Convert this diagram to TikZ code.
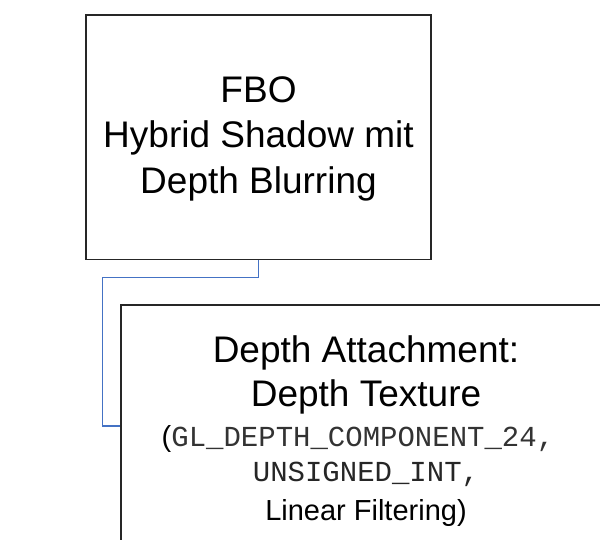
\documentclass[tikz,border=0pt]{standalone}
\usepackage{fontspec}
\setmainfont{Liberation Sans}
\setmonofont{Liberation Mono}
\definecolor{linkblue}{RGB}{68,114,196}
\begin{document}
\begin{tikzpicture}[x=1pt,y=-1pt,
  box/.style={draw=black!85, line width=1.4pt, fill=white, inner sep=0pt},
  link/.style={draw=linkblue, line width=1.3pt},
  bigtext/.style={font=\fontsize{37}{44}\selectfont, anchor=base, inner sep=0pt},
  smalltext/.style={font=\fontsize{29}{36}\selectfont, anchor=base, inner sep=0pt},
  codetext/.style={text=black!85}]
\useasboundingbox (0,0) rectangle (600,540);
\clip (0,0) rectangle (600,540);

% frame buffer object box
\node[box, minimum width=345pt, minimum height=244.5pt] (fbo) at (258.5,137.25) {};
\node[bigtext] (fboA) at (258.5,102.3) {FBO};
\node[bigtext] (fboB) at (258.5,147.5) {Hybrid Shadow mit};
\node[bigtext] (fboC) at (258.5,193.3) {Depth Blurring};

% depth attachment box (runs past the right and lower edges)
\node[box, minimum width=490pt, minimum height=242pt] (depth) at (366,426) {};
\node[bigtext] (depA) at (366,362.7) {Depth Attachment:};
\node[bigtext] (depB) at (366,406.7) {Depth Texture};
\node[smalltext] (depC) at (358,446) {(\textcolor{black!80}{\ttfamily GL\char"5F DEPTH\char"5F COMPONENT\char"5F 24,}};
\node[smalltext, codetext] (depD) at (366,481.7) {\ttfamily UNSIGNED\char"5F INT,};
\node[smalltext] (depE) at (366,520) {Linear Filtering)};

% connector between the two boxes
\coordinate (elbow) at (102.7,277.7);
\draw[link] (fbo.south) |- (elbow) |- (depth.west);
\end{tikzpicture}
\end{document}
